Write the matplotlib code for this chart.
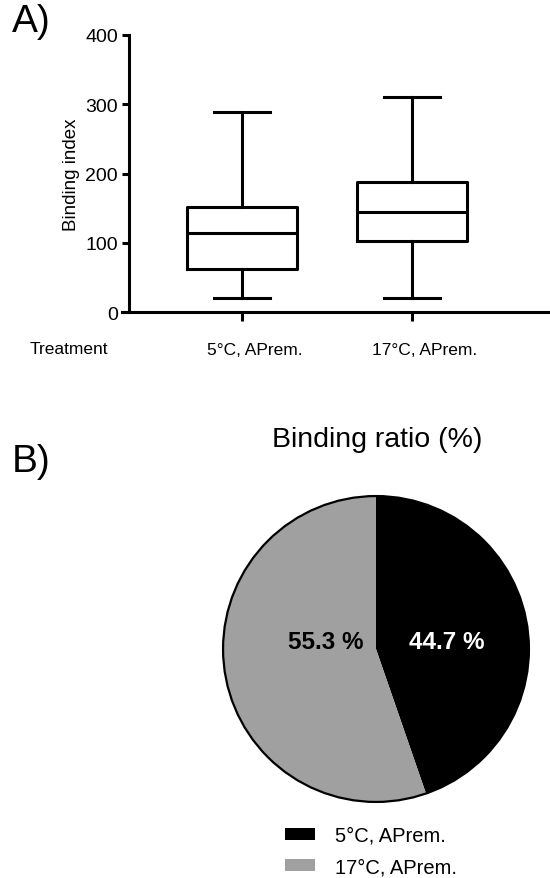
import matplotlib
matplotlib.use('Agg')
import matplotlib.pyplot as plt
import matplotlib.transforms as mtransforms
from matplotlib.patches import Patch

plt.rcParams['font.family'] = ['Liberation Sans', 'DejaVu Sans']

# box plot summary values
groups = ['5°C, APrem.', '17°C, APrem.']
whisker_low = [20, 20]
q1 = [62, 103]
median = [114, 145]
q3 = [151, 188]
whisker_high = [289, 310]

# pie values
pie_labels = ['5°C, APrem.', '17°C, APrem.']
pie_values = [44.7, 55.3]
pie_colors = ['#000000', '#a0a0a0']
pie_text_colors = ['white', 'black']

W, H = 550, 879
fig = plt.figure(figsize=(W / 100, H / 100), dpi=100)

lw = 2.2

# ---- panel A: box plot ----
ax = fig.add_axes([122 / W, 1 - 313 / H, 428 / W, 277 / H])
stats = []
for i in range(len(groups)):
    stats.append(dict(whislo=whisker_low[i], q1=q1[i], med=median[i],
                      q3=q3[i], whishi=whisker_high[i], fliers=[]))
positions = list(range(1, len(groups) + 1))
ax.bxp(stats, positions=positions, widths=0.65, capwidths=0.33,
       showfliers=False,
       boxprops=dict(linewidth=lw, color='black'),
       medianprops=dict(linewidth=lw, color='black'),
       whiskerprops=dict(linewidth=lw, color='black'),
       capprops=dict(linewidth=lw, color='black'))
ax.set_xlim(0.294, 2.812)
ax.set_ylim(0, 400)
ax.set_yticks([0, 100, 200, 300, 400])
ax.set_xticks(positions)
ax.set_xticklabels(groups, fontsize=12.5)
ax.spines['top'].set_visible(False)
ax.spines['right'].set_visible(False)
ax.spines['left'].set_position(('data', 0.335))
for s in ['left', 'bottom']:
    ax.spines[s].set_linewidth(lw)
ax.tick_params(axis='y', labelsize=14, width=lw, length=5, pad=3)
ax.tick_params(axis='x', width=lw, length=6.5, pad=15)
# category labels sit a little right of their ticks, as in the original
shift = mtransforms.ScaledTranslation(0.13, 0, fig.dpi_scale_trans)
for lab in ax.get_xticklabels():
    lab.set_transform(lab.get_transform() + shift)
ax.set_ylabel('Binding index', fontsize=13.5)
ax.yaxis.set_label_coords(-0.097, 0.5)

fig.text(30 / W, 1 - 350 / H, 'Treatment', fontsize=12.5, va='center', ha='left')
fig.text(12 / W, 1 - 22 / H, 'A)', fontsize=28, va='center', ha='left')

# ---- panel B: pie ----
fig.text(12 / W, 1 - 462 / H, 'B)', fontsize=28, va='center', ha='left')
fig.text(377 / W, 1 - 440 / H, 'Binding ratio (%)', fontsize=20.5, va='center', ha='center')

r = 156
pax = fig.add_axes([(376 - r) / W, 1 - (650 + r) / H, 2 * r / W, 2 * r / H])
wedges, _ = pax.pie(pie_values, colors=pie_colors, startangle=90, counterclock=False,
                    wedgeprops=dict(linewidth=0))
pax.set_xlim(-1.02, 1.02)
pax.set_ylim(-1.02, 1.02)
outline = plt.Circle((0, 0), 1, fill=False, edgecolor='black', linewidth=1.6)
pax.add_patch(outline)
label_x = [0.46, -0.33]
for val, tc, lx in zip(pie_values, pie_text_colors, label_x):
    pax.text(lx, 0.05, f'{val:.1f} %', color=tc, fontsize=17.5, fontweight='bold',
             ha='center', va='center')

handles = [Patch(facecolor=c, edgecolor='none') for c in pie_colors]
fig.legend(handles, pie_labels, loc='upper left', bbox_to_anchor=(285 / W, 1 - 827 / H),
           frameon=False, fontsize=14.5, handlelength=1.5, handleheight=0.55,
           handletextpad=1.0, labelspacing=0.6, borderaxespad=0, borderpad=0)

fig.savefig('out.png', dpi=100, facecolor='white')
